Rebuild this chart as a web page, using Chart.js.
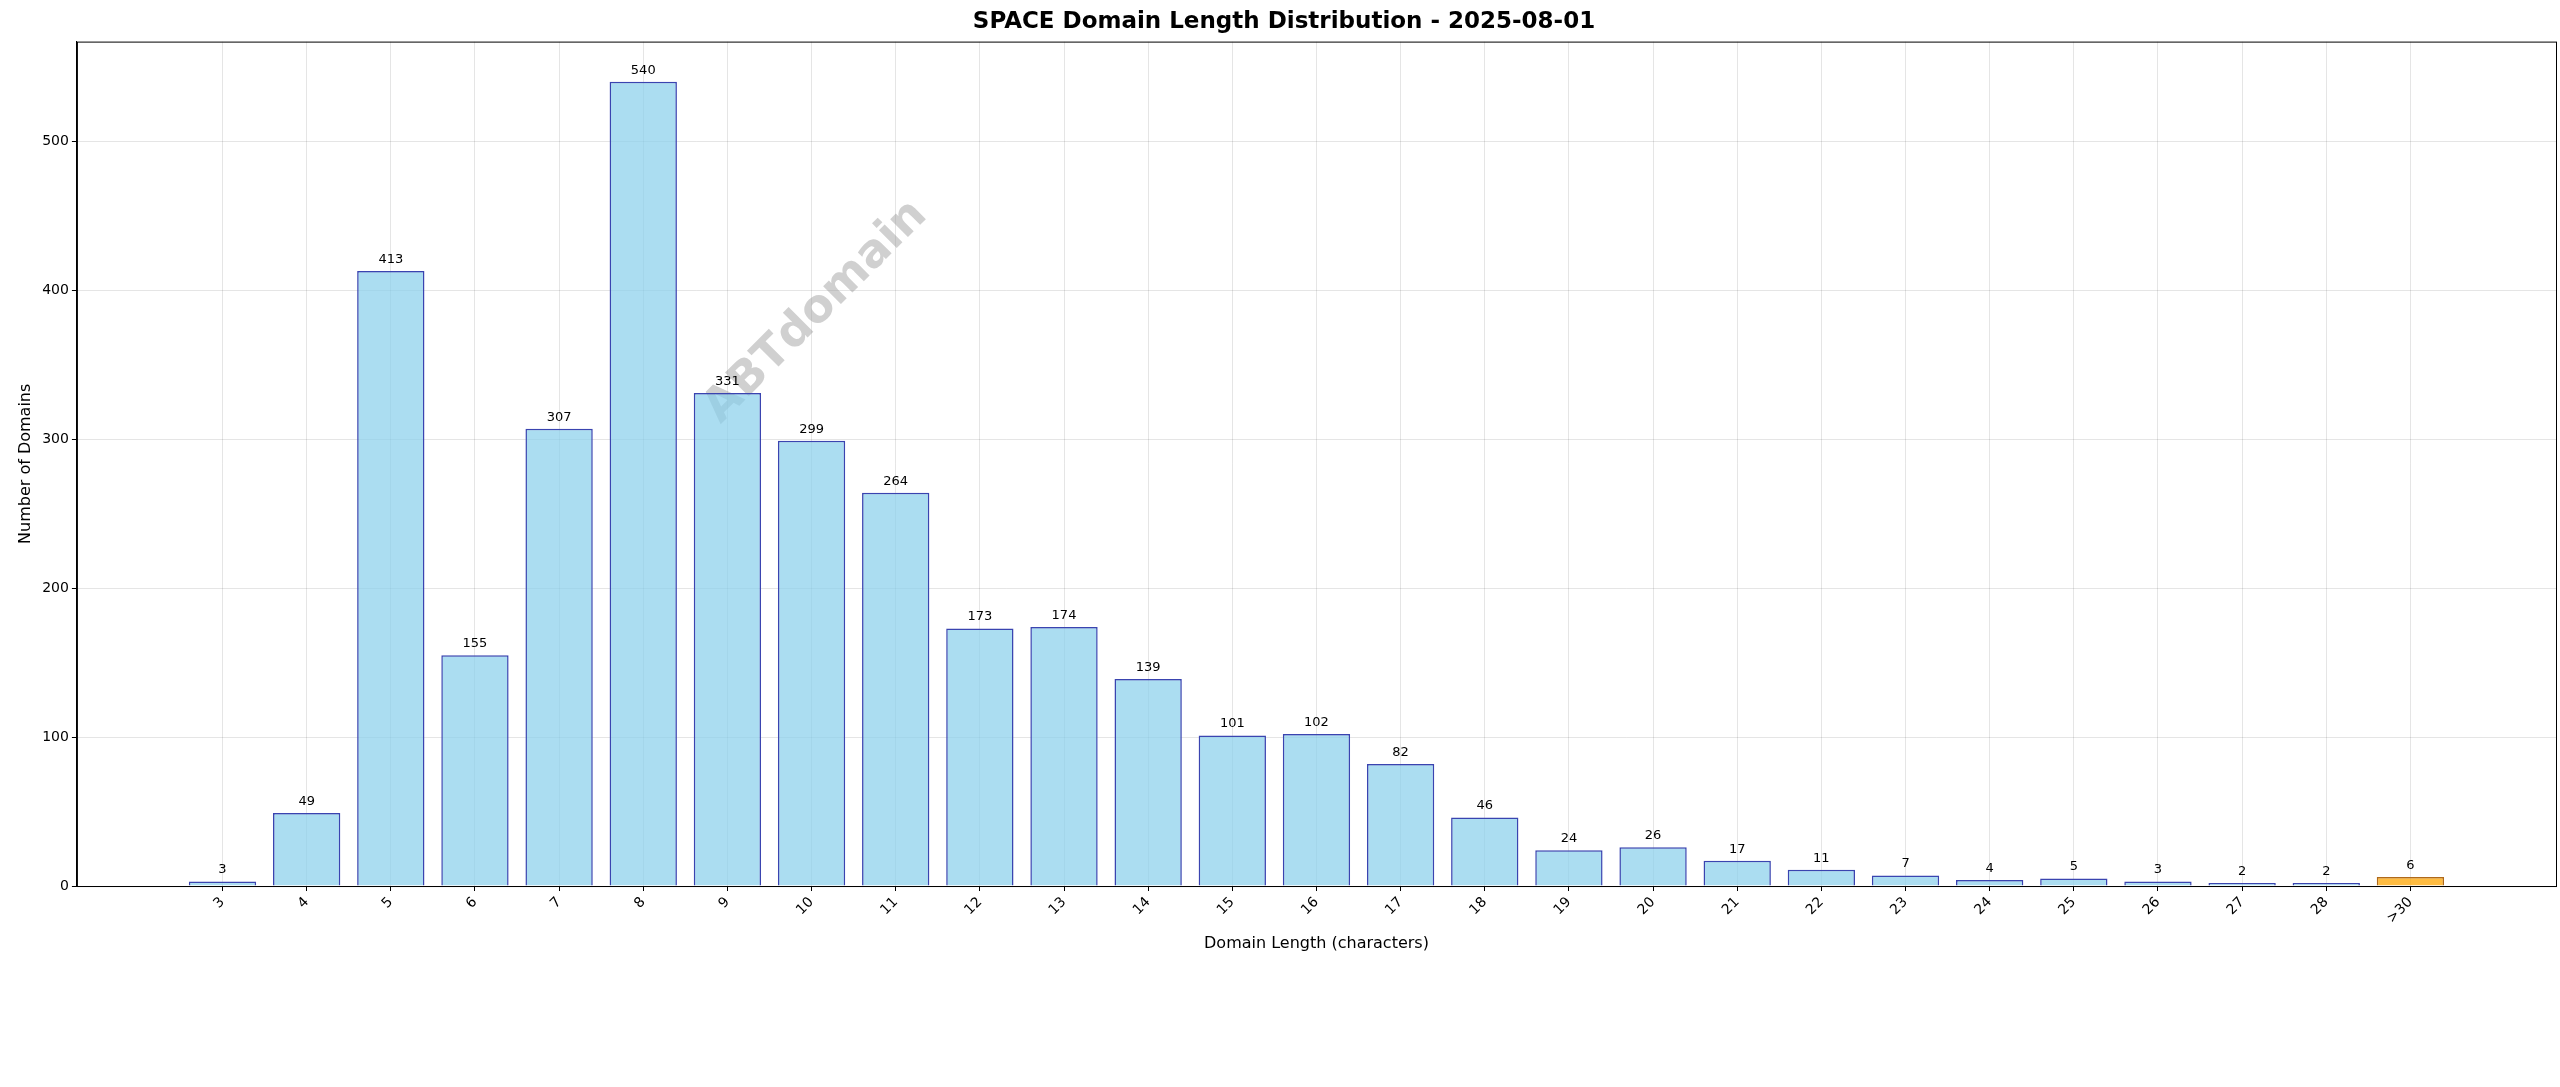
<!DOCTYPE html>
<html>
<head>
<meta charset="utf-8">
<script src="https://cdn.jsdelivr.net/npm/chart.js@4"></script>
<style>
  html, body { margin: 0; padding: 0; background: #fff; }
  #wrap { width: 2560px; height: 1087px; }
</style>
</head>
<body>
<div id="wrap"><canvas id="chart"></canvas></div>
<script>
const lengths = ["3","4","5","6","7","8","9","10","11","12","13","14","15","16","17","18","19","20","21","22","23","24","25","26","27","28",">30"];
const counts = [3,49,413,155,307,540,331,299,264,173,174,139,101,102,82,46,24,26,17,11,7,4,5,3,2,2,6];

const fills = counts.map((v, i) => lengths[i] === ">30" ? "rgba(255,165,0,0.75)" : "rgba(135,206,235,0.7)");
const edges = counts.map((v, i) => lengths[i] === ">30" ? "#B06A1A" : "#3A44B0");

const labelPlugin = {
  id: "labels",
  afterDatasetsDraw(chart) {
    const ctx = chart.ctx;
    const meta = chart.getDatasetMeta(0);
    ctx.save();
    ctx.font = "13px 'DejaVu Sans'";
    ctx.fillStyle = "#000";
    ctx.textAlign = "center";
    ctx.textBaseline = "bottom";
    meta.data.forEach((bar, i) => {
      ctx.fillText(counts[i], bar.x, bar.y - 5);
    });
    ctx.restore();
  }
};

const watermark = {
  id: "watermark",
  beforeDatasetsDraw(chart) {
    const ctx = chart.ctx;
    ctx.save();
    ctx.translate(816, 312);
    ctx.rotate(-Math.PI / 4);
    ctx.font = "bold 46px 'DejaVu Sans'";
    ctx.fillStyle = "rgba(150,150,150,0.45)";
    ctx.textAlign = "center";
    ctx.textBaseline = "middle";
    ctx.fillText("ABTdomain", 0, 0);
    ctx.restore();
  }
};

const frame = {
  id: "frame",
  afterDraw(chart) {
    const a = chart.chartArea, ctx = chart.ctx;
    ctx.save();
    ctx.strokeStyle = "#000";
    ctx.lineWidth = 1;
    ctx.strokeRect(a.left + 0.5, a.top + 0.5, a.right - a.left, a.bottom - a.top);
    ctx.restore();
  }
};

new Chart("chart", {
  type: "bar",
  data: {
    datasets: [{
      data: counts.map((v, i) => ({ x: i, y: v })),
      backgroundColor: fills,
      borderColor: edges,
      borderWidth: 1.5,
      categoryPercentage: 1,
      barPercentage: 0.8
    }]
  },
  options: {
    responsive: true,
    maintainAspectRatio: false,
    animation: false,
    layout: { padding: { left: 12, right: 4, top: 0, bottom: 130 } },
    plugins: {
      legend: { display: false },
      tooltip: { enabled: false },
      title: {
        display: true,
        text: "SPACE Domain Length Distribution - 2025-08-01",
        font: { family: "DejaVu Sans", size: 23, weight: "bold" },
        color: "#000",
        padding: { top: 8, bottom: 6 }
      }
    },
    scales: {
      x: {
        type: "linear",
        offset: false,
        min: -1.73,
        max: 27.73,
        afterBuildTicks(axis) {
          axis.ticks = lengths.map((l, i) => ({ value: i }));
        },
        ticks: {
          callback: (v) => lengths[v],
          maxRotation: 45,
          minRotation: 45,
          color: "#000",
          font: { family: "DejaVu Sans", size: 14 }
        },
        grid: { offset: false, color: "rgba(0,0,0,0.1)", drawTicks: true, tickColor: "#000", tickLength: 5 },
        border: { color: "#000", width: 1 },
        title: {
          display: true,
          text: "Domain Length (characters)",
          color: "#000",
          font: { family: "DejaVu Sans", size: 16 }
        }
      },
      y: {
        min: 0,
        max: 567,
        afterBuildTicks(axis) {
          axis.ticks = [0,100,200,300,400,500].map(v => ({ value: v }));
        },
        ticks: { color: "#000", font: { family: "DejaVu Sans", size: 14 } },
        grid: { color: "rgba(0,0,0,0.1)", tickColor: "#000", tickLength: 5 },
        border: { color: "#000", width: 1 },
        title: {
          display: true,
          text: "Number of Domains",
          color: "#000",
          font: { family: "DejaVu Sans", size: 16 }
        }
      }
    }
  },
  plugins: [labelPlugin, watermark, frame]
});
</script>
</body>
</html>
